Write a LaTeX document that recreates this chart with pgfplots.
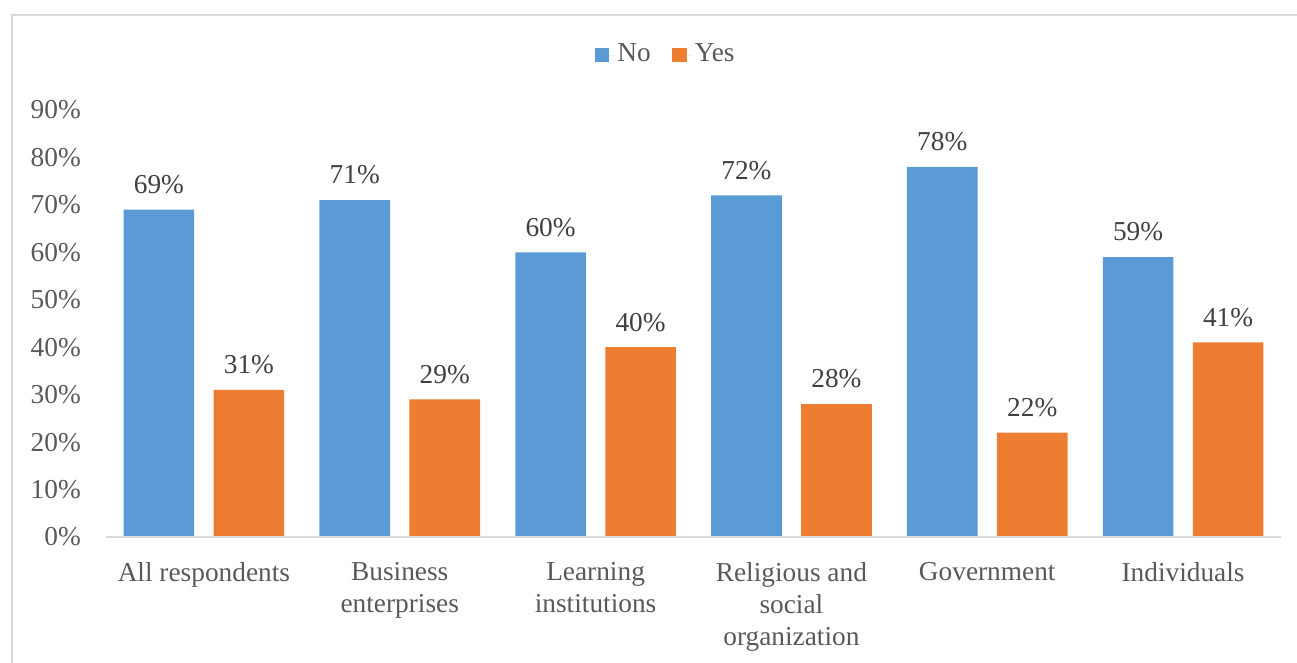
\documentclass[border=0pt]{standalone}
\usepackage{pgfplots}
\pgfplotsset{compat=1.18}
\usepackage{fontspec}
\setmainfont{Liberation Serif}
\definecolor{cno}{HTML}{5B9BD5}
\definecolor{cyes}{HTML}{ED7D31}
\definecolor{ctick}{HTML}{595959}
\definecolor{clab}{HTML}{404040}
\definecolor{cline}{HTML}{D9D9D9}
\begin{document}
\fontsize{20pt}{24pt}\selectfont
\begin{tikzpicture}
\path[use as bounding box] (-79.5pt,-93.75pt) rectangle (893.25pt,402.75pt);
\draw[cline, line width=1.2pt] (-70.5pt,-200pt) -- (-70.5pt,391.5pt) -- (1000pt,391.5pt);
\begin{axis}[
  scale only axis,
  width=881.25pt, height=320.25pt,
  ymin=0, ymax=90,
  xmin=-0.5, xmax=5.5,
  ybar, bar width=53pt,
  axis line style={draw=none},
  axis x line*=bottom,
  axis y line*=left,
  ytick={0,10,...,90},
  yticklabel={\pgfmathprintnumber{\tick}\%},
  /pgf/number format/assume math mode=true,
  yticklabel style={font=\fontsize{20.5pt}{24pt}\selectfont, color=ctick, xshift=-12pt},
  xtick=data,
  xticklabels={All respondents, Business\\enterprises, Learning\\institutions, Religious and\\social\\organization, Government, Individuals},
  xticklabel style={font=\fontsize{20.5pt}{24pt}\selectfont, color=ctick, align=center, yshift=-12pt},
  major tick length=0pt,
  nodes near coords={\pgfmathprintnumber{\pgfplotspointmeta}\%},
  nodes near coords style={font=\fontsize{20.5pt}{24pt}\selectfont, color=clab, yshift=5pt},
  legend style={at={(0.4766,1.1288)}, anchor=center, draw=none, legend columns=-1, font=\fontsize{20.5pt}{24pt}\selectfont, text=ctick, /tikz/every even column/.append style={column sep=14pt}},
  legend image code/.code={\fill[#1] (0pt,-5.5pt) rectangle (11pt,5.5pt); \path (0pt,0pt) -- (15pt,0pt);},
  clip=false,
]
\addplot[fill=cno, draw=none, bar shift=-33.75pt] coordinates {(0,69) (1,71) (2,60) (3,72) (4,78) (5,59)};
\addplot[fill=cyes, draw=none, bar shift=33.75pt] coordinates {(0,31) (1,29) (2,40) (3,28) (4,22) (5,41)};
\legend{No, Yes}
\draw[cline, line width=1.2pt] (rel axis cs:0,0) -- (rel axis cs:1,0);
\end{axis}
\end{tikzpicture}
\end{document}
